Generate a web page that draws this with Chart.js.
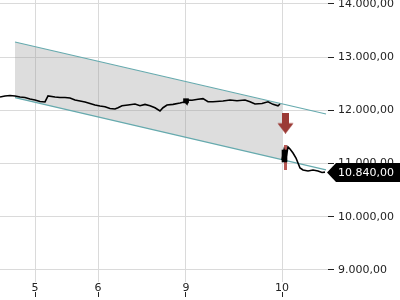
<!DOCTYPE html>
<html>
<head>
<meta charset="utf-8">
<script src="https://cdn.jsdelivr.net/npm/chart.js@4"></script>
<style>
  html, body { margin: 0; padding: 0; background: #fff; }
  #wrap { width: 400px; height: 300px; position: relative; }
</style>
</head>
<body>
<div id="wrap"><canvas id="chart"></canvas></div>
<script>
// ---- data ----
const dayTicks = [35, 98, 186, 282];
const dayLabels = ['5', '6', '9', '10'];
const levelTicks = [9000, 10000, 11000, 12000, 13000, 14000];

const priceX = [0, 5, 10, 15, 20, 25, 30, 35, 40, 45, 48, 55, 60, 65, 70, 75, 80, 85, 90, 95,
  100, 105, 110, 115, 118, 122, 128, 135, 140, 145, 150, 155, 160, 163, 167, 173, 180, 185, 187, 188,
  192, 198, 203, 208, 213, 223, 230, 237, 245, 250, 255, 262, 268, 273, 278, 280, 281,
  282, 284, 286, 288, 290, 293, 296, 298, 300, 303, 308, 313, 318, 322, 325];
const priceY = [12252, 12271, 12280, 12271, 12252, 12242, 12214, 12195, 12167, 12158, 12271, 12252, 12242, 12242, 12233, 12195, 12177, 12158, 12130, 12101,
  12083, 12069, 12036, 12025, 12050, 12087, 12101, 12120, 12087, 12113, 12087, 12050, 11988, 12050, 12101, 12113, 12139, 12162, 12120, 12195,
  12190, 12208, 12220, 12162, 12162, 12176, 12195, 12181, 12195, 12162, 12120, 12130, 12162, 12113, 12087, 12120, null,
  11067, 11255, 11105, 11312, 11274, 11199, 11105, 11011, 10917, 10880, 10861, 10880, 10861, 10833, 10840];

// larger candle bodies
const candleX = [186, 284.5];
const candleOpen = [12140, 11030];
const candleClose = [12220, 11255];
const candleWidth = [3, 5];

// trend channel
const channelX = [15, 326];
const channelUpper = [13286, 11932];
const channelLower = [12239, 10882];
const bandX = [15, 282];
const bandUpper = [13286, 12120];
const bandLower = [12239, 11073];

// signal marks
const arrowX = [285.5];
const arrowY = [11759];
const spikeX = [285.5, 285.5];
const spikeY = [10879, 11349];

const lastPrice = 10840;

// ---- helpers ----
function fmt(v) {
  const parts = v.toFixed(2).split('.');
  return parts[0].replace(/\B(?=(\d{3})+(?!\d))/g, '.') + ',' + parts[1];
}
const pts = (xs, ys) => xs.map((x, i) => ({ x: x, y: ys[i] }));

// arrow marker
const arrowImg = document.createElement('canvas');
arrowImg.width = 17; arrowImg.height = 21;
(function () {
  const c = arrowImg.getContext('2d');
  c.fillStyle = '#9b3a35';
  c.fillRect(5, 0, 7, 11);
  c.beginPath();
  c.moveTo(0.5, 10.5); c.lineTo(16.5, 10.5); c.lineTo(8.5, 21); c.closePath();
  c.fill();
})();

// black price tag on the right axis
const priceTag = {
  id: 'priceTag',
  afterDraw(chart) {
    const { ctx, chartArea, scales } = chart;
    const y = Math.round(scales.y.getPixelForValue(lastPrice)) + 0.5;
    const x0 = chartArea.right - 1;
    ctx.save();
    ctx.fillStyle = '#000';
    ctx.beginPath();
    ctx.moveTo(x0, y);
    ctx.lineTo(x0 + 9, y - 9.5);
    ctx.lineTo(chart.width, y - 9.5);
    ctx.lineTo(chart.width, y + 9.5);
    ctx.lineTo(x0 + 9, y + 9.5);
    ctx.closePath();
    ctx.fill();
    ctx.fillStyle = '#fff';
    ctx.font = '11px "DejaVu Sans"';
    ctx.textBaseline = 'middle';
    ctx.fillText(fmt(lastPrice), x0 + 11, y + 0.5);
    ctx.restore();
  }
};

const setDayTicks = s => { s.ticks = dayTicks.map(v => ({ value: v })); };

new Chart(document.getElementById('chart'), {
  type: 'line',
  data: {
    datasets: [
      { data: pts(arrowX, arrowY), pointStyle: arrowImg, pointRadius: 10, showLine: false },
      { type: 'bar', data: candleX.map((x, i) => ({ x: x, y: [candleOpen[i], candleClose[i]] })),
        backgroundColor: '#000', borderWidth: 0, barThickness: candleWidth, grouped: false },
      { data: pts(priceX, priceY), borderColor: '#000', borderWidth: 1.6, pointRadius: 0, spanGaps: false },
      { data: pts(spikeX, spikeY), borderColor: 'rgba(170,60,55,0.85)', borderWidth: 3, pointRadius: 0 },
      { data: pts(channelX, channelUpper), borderColor: '#66aaae', borderWidth: 1.2, pointRadius: 0 },
      { data: pts(channelX, channelLower), borderColor: '#66aaae', borderWidth: 1.2, pointRadius: 0 },
      { data: pts(bandX, bandUpper), borderWidth: 0, pointRadius: 0, fill: '+1', backgroundColor: 'rgba(150,150,150,0.32)' },
      { data: pts(bandX, bandLower), borderWidth: 0, pointRadius: 0 }
    ]
  },
  options: {
    responsive: true,
    maintainAspectRatio: false,
    animation: false,
    layout: { padding: 0, autoPadding: false },
    plugins: { legend: { display: false }, tooltip: { enabled: false } },
    scales: {
      x: {
        type: 'linear', min: 0, max: 328, position: 'bottom', weight: 0, offset: false,
        afterBuildTicks: setDayTicks,
        afterFit: s => { s.height = 10; s.paddingLeft = 0; s.paddingRight = 0; },
        border: { display: false },
        grid: { color: '#dadada', drawTicks: false, offset: false },
        ticks: { padding: 0, color: '#222', font: { family: 'DejaVu Sans', size: 11 },
          callback: v => dayLabels[dayTicks.indexOf(v)] }
      },
      x2: {
        type: 'linear', min: 0, max: 328, position: 'bottom', weight: 1, offset: false,
        afterBuildTicks: setDayTicks,
        afterFit: s => { s.height = 8; s.paddingLeft = 0; s.paddingRight = 0; },
        border: { display: false },
        grid: { drawOnChartArea: false, tickColor: '#222', tickLength: 5, offset: false },
        ticks: { display: false }
      },
      y: {
        position: 'right', min: 8774, max: 14075,
        afterBuildTicks: s => { s.ticks = levelTicks.map(v => ({ value: v })); },
        afterFit: s => { s.width = 72; s.paddingTop = 0; s.paddingBottom = 0; },
        border: { display: false },
        grid: { color: '#dadada', tickColor: '#222', tickLength: 6 },
        ticks: { padding: 4, color: '#222',
          font: { family: 'DejaVu Sans', size: 11 }, callback: v => fmt(v) }
      }
    }
  },
  plugins: [priceTag]
});
</script>
</body>
</html>
